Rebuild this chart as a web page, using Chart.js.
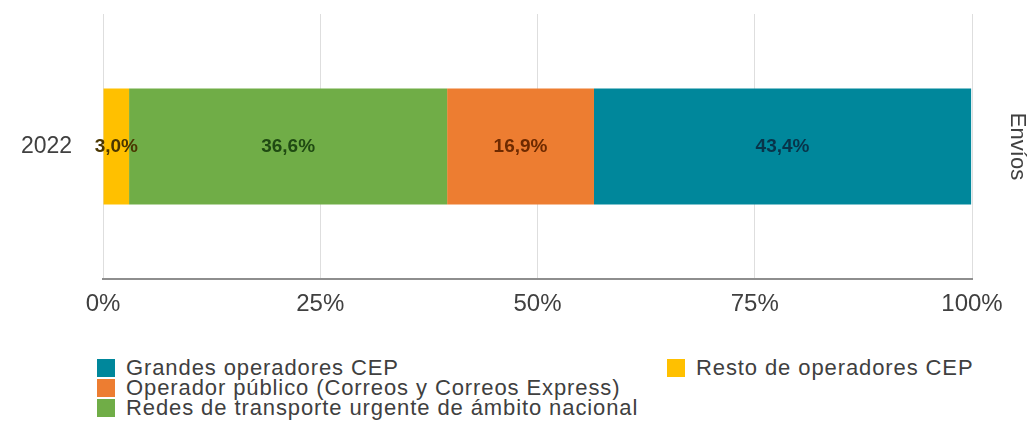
<!DOCTYPE html>
<html lang="es">
  <head>
    <meta charset="UTF-8" />
    <title>Envíos 2022</title>
  </head>
  <style>
    * {
      margin: 0;
      padding: 0;
      font-family: "Liberation Sans", Arial, sans-serif;
    }
    body {
      width: 1032px;
      height: 430px;
      background: white;
      position: relative;
      overflow: hidden;
    }
    .chartBox {
      position: absolute;
      left: 0;
      top: 0;
      width: 1032px;
      height: 340px;
    }
    .legend {
      position: absolute;
      left: 97px;
      top: 358px;
      display: grid;
      grid-template-rows: repeat(3, 20px);
      grid-template-columns: 570px auto;
      grid-auto-flow: column;
      color: #404040;
      font-size: 22px;
      letter-spacing: 0.9px;
      line-height: 20px;
    }
    .legend div {
      display: flex;
      align-items: center;
      white-space: nowrap;
    }
    .legend span {
      display: inline-block;
      width: 18px;
      height: 18px;
      margin-right: 11px;
    }
  </style>
  <body>
    <div class="chartBox">
      <canvas id="myChart" width="1032" height="340"></canvas>
    </div>
    <div class="legend" id="legend"></div>

    <script src="https://cdn.jsdelivr.net/npm/chart.js"></script>

    <script>
      // data, in stacking order from left to right
      const years = ["2022"];
      const seriesNames = [
        "Resto de operadores CEP",
        "Redes de transporte urgente de ámbito nacional",
        "Operador público (Correos y Correos Express)",
        "Grandes operadores CEP"
      ];
      const resto = [3.0];
      const redes = [36.6];
      const operadorPublico = [16.9];
      const grandes = [43.4];
      const barColors = ["#ffc000", "#70ad47", "#ed7d31", "#00879b"];
      const labelColors = ["#4a3600", "#1f4a12", "#6e2a00", "#08344a"];
      const axisTitle = "Envíos";

      const seriesValues = [resto, redes, operadorPublico, grandes];
      const textColor = "#404040";
      const fontFamily = "'Liberation Sans', Arial, sans-serif";

      const data = {
        labels: years,
        datasets: seriesNames.map((name, i) => ({
          label: name,
          data: seriesValues[i],
          backgroundColor: barColors[i],
          borderWidth: 0,
          categoryPercentage: 1,
          barPercentage: 0.437,
          yAxisID: "y"
        }))
      };

      // draws the value inside each bar segment
      const valueLabels = {
        id: "valueLabels",
        afterDatasetsDraw(chart) {
          const ctx = chart.ctx;
          ctx.save();
          ctx.font = "bold 19px " + fontFamily;
          ctx.textAlign = "center";
          ctx.textBaseline = "middle";
          chart.data.datasets.forEach((ds, i) => {
            chart.getDatasetMeta(i).data.forEach((bar, j) => {
              const p = bar.getCenterPoint();
              ctx.fillStyle = labelColors[i];
              ctx.fillText(ds.data[j].toFixed(1).replace(".", ",") + "%", p.x, p.y);
            });
          });
          ctx.restore();
        }
      };

      const config = {
        type: "bar",
        data,
        plugins: [valueLabels],
        options: {
          indexAxis: "y",
          responsive: false,
          animation: false,
          layout: { padding: { top: 14, left: 21, right: 0, bottom: 0 } },
          plugins: {
            legend: { display: false },
            tooltip: { enabled: false }
          },
          scales: {
            x: {
              stacked: true,
              min: 0,
              max: 100,
              ticks: {
                stepSize: 25,
                padding: 11,
                color: textColor,
                font: { size: 24, family: fontFamily },
                callback: (v) => v + "%"
              },
              grid: { color: "#dedede", drawTicks: false },
              border: { color: "#8e8e8e", width: 2 },
              afterFit: (s) => { s.height = 340 - 279; }
            },
            y: {
              stacked: true,
              position: "left",
              ticks: {
                padding: 0,
                crossAlign: "far",
                color: textColor,
                font: { size: 23, family: fontFamily }
              },
              grid: { display: false, drawTicks: false },
              border: { display: false },
              afterFit: (s) => { s.width = 103 - 21; }
            },
            y2: {
              position: "right",
              type: "category",
              labels: years,
              ticks: { display: false },
              grid: { display: false, drawTicks: false },
              border: { display: false },
              title: {
                display: true,
                text: axisTitle,
                color: textColor,
                padding: 2,
                font: { size: 22, family: fontFamily }
              },
              afterFit: (s) => { s.width = 60; }
            }
          }
        }
      };

      const myChart = new Chart(document.getElementById("myChart"), config);

      // legend: column-first, reverse of stacking order
      const legend = document.getElementById("legend");
      for (let i = seriesNames.length - 1; i >= 0; i--) {
        const item = document.createElement("div");
        const box = document.createElement("span");
        box.style.background = barColors[i];
        item.appendChild(box);
        item.appendChild(document.createTextNode(seriesNames[i]));
        legend.appendChild(item);
      }
    </script>
  </body>
</html>
